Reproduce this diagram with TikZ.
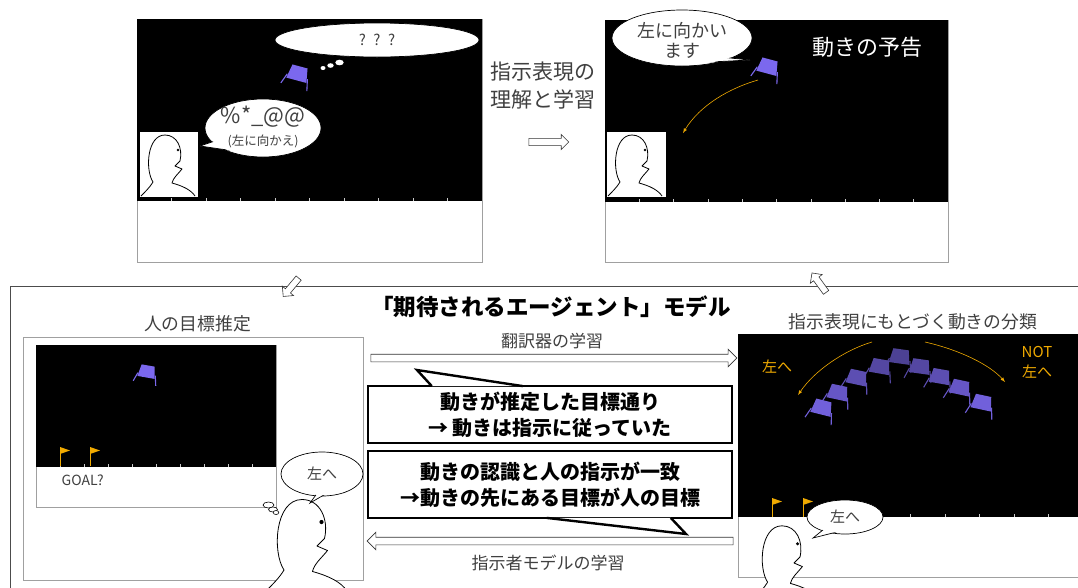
\documentclass[tikz,border=0pt]{standalone}
\usepackage{fontspec}
\setmainfont{Noto Sans CJK JP}
\usepackage{tikz}
\usetikzlibrary{calc, positioning, arrows.meta, shapes.geometric, shapes.arrows}

\definecolor{lander}{HTML}{7B68EE}
\definecolor{amber}{HTML}{F0AA00}
\definecolor{txtgray}{HTML}{404040}
\definecolor{rimgray}{HTML}{A0A0A0}

\tikzset{
	% simple person: head, beak mouth, shoulders
	person/.pic={
		\fill[white] (-24,40) .. controls (-19,35) and (-15,31) .. (-12,26)
			.. controls (-20,14) and (-18,-21) .. (0,-21)
			.. controls (12,-21) and (18,-8) .. (15,5) -- (10,10) -- (17,13)
			.. controls (13,18) and (8,22) .. (7,27)
			.. controls (18,30) and (26,34) .. (30,40) -- cycle;
		\draw[line width=0.8pt, line join=round] (-12,26)
			.. controls (-20,14) and (-18,-21) .. (0,-21)
			.. controls (12,-21) and (18,-8) .. (15,5) -- (10,10) -- (17,13)
			.. controls (13,18) and (8,22) .. (7,27)
			.. controls (18,30) and (26,34) .. (30,40);
		\draw[line width=0.8pt] (-12,26) .. controls (-15,31) and (-19,35) .. (-24,40);
		\fill (13,-6) circle (1.4);
	},
	% lunar lander, colour as argument
	lander/.pic={
		\fill[#1] (-6,-6) -- (6,-6) -- (8,5) -- (-8,5) -- cycle;
		\draw[#1, line width=1.1pt] (-8,2) -- (-11,10) (8,2) -- (10,11);
	},
	flag/.pic={
		\draw[amber, line width=0.9pt] (0,0) -- (0,-19);
		\fill[amber] (0,-19) -- (10,-15.5) -- (0,-12) -- cycle;
	}
}

\begin{document}
\begin{tikzpicture}[x=1pt, y=-1pt, >=latex, thick,
	sky/.style={fill=black, anchor=north west, inner sep=0pt, outer sep=0pt},
	panel/.style={draw=rimgray, line width=0.8pt, fill=white, anchor=north west, inner sep=0pt},
	hollow/.style={single arrow, draw=black!80, fill=white, line width=0.6pt, inner sep=0pt, inner ysep=3.5pt, single arrow head extend=5pt},
	bubble/.style={ellipse, draw, fill=white, line width=0.7pt, inner sep=0pt},
	tail/.style={draw, fill=white, line width=0.7pt},
	caption/.style={text=txtgray, font=\fontsize{17.8}{21}\selectfont},
	small/.style={text=txtgray, font=\fontsize{17}{20}\selectfont},
	callbox/.style={draw, line width=2.4pt, fill=white, minimum width=364pt, align=center, font=\bfseries\fontsize{20}{26}\selectfont, inner sep=0pt},
	tick/.style={white!80!black, line width=0.6pt},
	amberarrow/.style={->, amber, line width=0.6pt},
	]
	\clip (0,0) rectangle (1078,587);
	\fill[white] (0,0) rectangle (1078,587);

	% ---- top left: instruction not understood
	\node[panel, minimum width=345pt, minimum height=243pt] (panA) at (137,19) {};
	\node[sky, minimum width=345pt, minimum height=182pt] (skyA) at (137,19) {};
	\foreach \i in {1,...,9}
		\draw[tick] ($(skyA.south west)!\i/10!(skyA.south east)$) -- ++(0,-3);
	\node[sky, fill=white, minimum width=58pt, minimum height=65pt] (faceA) at (140,132) {};
	\begin{scope}
		\clip (faceA.south west) rectangle (faceA.north east);
		\pic at (165,156) {person};
	\end{scope}
	\node[bubble, minimum width=204pt, minimum height=34pt] (thinkA) at (377,40) {};
	\node[text=txtgray, font=\fontsize{15}{17}\selectfont] at (thinkA) {?\enspace?\enspace?};
	\fill[white] (323,68) ellipse [x radius=2.5, y radius=2];
	\fill[white] (330.5,65.5) ellipse [x radius=3.2, y radius=2.3];
	\fill[white] (339.5,62.5) ellipse [x radius=4.2, y radius=2.8];
	\pic[rotate=-15, scale=1.3] at (298,74) {lander=lander};
	\node[bubble, minimum width=116pt, minimum height=58pt] (callA) at (263,128) {};
	\draw[tail] ($(callA.center)!0.9!(callA.195)$) -- (200,146) -- ($(callA.center)!0.9!(callA.228)$);
	\fill[white] (callA.center) ellipse [x radius=57, y radius=28];
	\node[text=txtgray, font=\fontsize{22}{24}\selectfont] (codeA) at (263,117) {\%*\_@@};
	\node[text=txtgray, font=\fontsize{12.5}{14}\selectfont] (glossA) at (263,141) {(左に向かえ)};

	% ---- learning step between the top panels
	\node[text=txtgray, align=center, font=\fontsize{21}{28}\selectfont] (learnTxt) at (543,86) {指示表現の\\理解と学習};
	\node[hollow, inner ysep=3.3pt, single arrow head extend=4pt, minimum height=40pt] (learnArrow) at (547,142) {};

	% ---- top right: motion forecast
	\node[panel, minimum width=343pt, minimum height=242pt] (panB) at (605,20) {};
	\node[sky, minimum width=343pt, minimum height=182pt] (skyB) at (605,20) {};
	\foreach \i in {1,...,9}
		\draw[tick] ($(skyB.south west)!\i/10!(skyB.south east)$) -- ++(0,-3);
	\node[sky, fill=white, minimum width=59pt, minimum height=65pt] (faceB) at (607,132) {};
	\begin{scope}
		\clip (faceB.south west) rectangle (faceB.north east);
		\pic at (632,156) {person};
	\end{scope}
	\node[bubble, minimum width=140pt, minimum height=56pt] (callB) at (682,38) {};
	\draw[tail] ($(callB.center)!0.9!(callB.305)$) -- (750,60) -- ($(callB.center)!0.9!(callB.335)$);
	\fill[white] (callB.center) ellipse [x radius=69, y radius=27];
	\node[text=txtgray, align=center, font=\fontsize{18}{20}\selectfont] (sayB) at (682,40) {左に向かい\\ます};
	\pic[rotate=-15, scale=1.3] at (768,67) {lander=lander};
	\node[text=white, font=\fontsize{22}{24}\selectfont] (forecast) at (867,47) {動きの予告};
	\draw[amberarrow] (758,80) .. controls (730,88) and (700,105) .. (683,133);

	% ---- the expected-agent model
	\node[draw=black!70, line width=0.8pt, anchor=north west, minimum width=1090pt, minimum height=340pt] (model) at (10,286) {};
	\node[hollow, inner ysep=3pt, single arrow head extend=4pt, minimum height=24pt, rotate=230] (downArrow) at (292,286) {};
	\node[hollow, inner ysep=3pt, single arrow head extend=4pt, minimum height=24pt, rotate=126] (upArrow) at (820,284) {};
	\node[font=\bfseries\fontsize{22.5}{25}\selectfont] (title) at (551,307) {「期待されるエージェント」モデル};

	% left: goal estimation
	\node[panel, minimum width=340pt, minimum height=243pt] (panC) at (23,337) {};
	\node[caption, above=1pt of panC.north, xshift=4pt] (capC) {人の目標推定};
	\node[panel, minimum width=240pt, minimum height=162pt] (scrC) at (36,345) {};
	\node[sky, minimum width=240pt, minimum height=122pt] (skyC) at (36,345) {};
	\foreach \i in {1,...,9}
		\draw[tick] ($(skyC.south west)!\i/10!(skyC.south east)$) -- ++(0,-3);
	\pic at (60,466) {flag};
	\pic at (90,466) {flag};
	\pic[rotate=-10, scale=1.1] at (147,372) {lander=lander};
	\node[text=txtgray, anchor=west, font=\fontsize{14}{16}\selectfont] (goalC) at (58,480) {GOAL?};
	\draw[fill=white, line width=0.6pt] (268.5,505) ellipse [x radius=5.5, y radius=3];
	\draw[fill=white, line width=0.6pt] (273,509.5) ellipse [x radius=4.5, y radius=2.5];
	\draw[fill=white, line width=0.6pt] (276,512.5) ellipse [x radius=2.8, y radius=2];
	\pic[scale=1.5] at (302,531) {person};
	\node[bubble, minimum width=82pt, minimum height=44pt] (callC) at (322,474) {};
	\draw[tail] ($(callC.center)!0.9!(callC.255)$) -- (310,503) -- ($(callC.center)!0.9!(callC.280)$);
	\fill[white] (callC.center) ellipse [x radius=40, y radius=21];
	\node[text=txtgray, font=\fontsize{15}{17}\selectfont] at (callC) {左へ};

	% middle: two learning directions and the two conclusions
	\node[hollow, minimum height=366pt] (fwdArrow) at (552,358) {};
	\node[small] (fwdTxt) at (552,341) {翻訳器の学習};
	\node[callbox, minimum height=57pt] (matchA) at (550,414.5) {動きが推定した目標通り\\→ 動きは指示に従っていた};
	\draw[line width=2.4pt, fill=white, line join=miter] ($(matchA.north west)+(65,1.3)$) -- (417,370) -- ($(matchA.north west)+(156,1.3)$);
	\node[callbox, minimum height=67pt] (matchB) at (550,484.5) {動きの認識と人の指示が一致\\→動きの先にある目標が人の目標};
	\draw[line width=2.4pt, fill=white, line join=miter] ($(matchB.south west)+(180,-1.3)$) -- (686,534) -- ($(matchB.south west)+(304,-1.3)$);
	\node[hollow, minimum height=366pt, rotate=180] (bwdArrow) at (552,541) {};
	\node[small] (bwdTxt) at (548,563) {指示者モデルの学習};

	% right: classifying motions by instruction
	\node[panel, minimum width=350pt, minimum height=243pt] (panD) at (738,334) {};
	\node[sky, minimum width=350pt, minimum height=183pt] (skyD) at (738,334) {};
	\node[caption] (capD) at (913,322) {指示表現にもとづく動きの分類};
	\foreach \i in {1,...,9}
		\draw[tick] ($(skyD.south west)+(34.5*\i,0)$) -- ++(0,-3);
	\pic at (772,517) {flag};
	\pic at (803,517) {flag};
	\foreach \x/\y/\r/\s in {900/357/-8/62, 880/367/-10/68, 920/367/-8/68, 857/378/-12/75, 940/377/-10/75,
			838/393/-12/83, 960/388/-12/83, 822/408/-14/92, 982/403/-12/92}
		\pic[rotate=\r, scale=1.3] at (\x,\y) {lander={lander!\s!black}};
	\draw[amberarrow] (872,342) .. controls (845,350) and (815,370) .. (798,395);
	\draw[amberarrow] (925,342) .. controls (960,350) and (990,365) .. (1005,382);
	\node[text=amber, font=\fontsize{15}{18}\selectfont] (leftLbl) at (777,367) {左へ};
	\node[text=amber, align=center, font=\fontsize{15}{20}\selectfont] (notLbl) at (1037,362) {NOT\\左へ};
	\pic[scale=1.2] at (782,551) {person};
	\node[bubble, minimum width=76pt, minimum height=34pt] (callD) at (845,517) {};
	\draw[tail] ($(callD.center)!0.9!(callD.210)$) -- (813,538) -- ($(callD.center)!0.9!(callD.240)$);
	\fill[white] (callD.center) ellipse [x radius=37, y radius=16];
	\node[text=txtgray, font=\fontsize{15}{17}\selectfont] at (callD) {左へ};
\end{tikzpicture}
\end{document}
